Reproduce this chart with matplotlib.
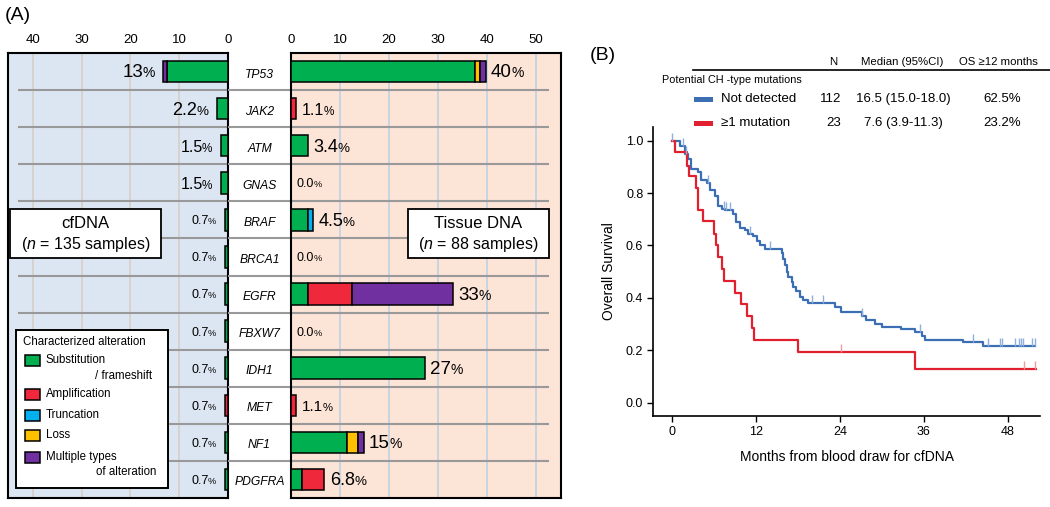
import numpy as np
import matplotlib.pyplot as plt
from matplotlib.patches import Rectangle
from matplotlib.path import Path
from matplotlib.offsetbox import TextArea, HPacker, AnnotationBbox

plt.rcParams['font.family'] = ['Liberation Sans', 'DejaVu Sans']
plt.rcParams['mathtext.fontset'] = 'custom'
plt.rcParams['mathtext.it'] = 'Liberation Sans:italic'
plt.rcParams['mathtext.rm'] = 'Liberation Sans'

# ---------- DATA (A): alteration frequency (%) per gene ----------
genes = ["TP53", "JAK2", "ATM", "GNAS", "BRAF", "BRCA1",
         "EGFR", "FBXW7", "IDH1", "MET", "NF1", "PDGFRA"]
alt_names = ["Substitution", "Amplification", "Truncation", "Loss", "Multiple types"]

cf_sub   = [12.6, 2.2, 1.5, 1.5, 0.7, 0.7, 0.7, 0.7, 0.7, 0.0, 0.7, 0.7]
cf_amp   = [0.0, 0.0, 0.0, 0.0, 0.0, 0.0, 0.0, 0.0, 0.0, 0.7, 0.0, 0.0]
cf_trunc = [0.0] * 12
cf_loss  = [0.0] * 12
cf_multi = [0.7, 0.0, 0.0, 0.0, 0.0, 0.0, 0.0, 0.0, 0.0, 0.0, 0.0, 0.0]
cf_labels = ["13", "2.2", "1.5", "1.5", "0.7", "0.7", "0.7", "0.7", "0.7", "0.7", "0.7", "0.7"]

ti_sub   = [37.5, 0.0, 3.4, 0.0, 3.4, 0.0, 3.4, 0.0, 27.3, 0.0, 11.4, 2.3]
ti_amp   = [0.0, 1.1, 0.0, 0.0, 0.0, 0.0, 9.1, 0.0, 0.0, 1.1, 0.0, 4.5]
ti_trunc = [0.0, 0.0, 0.0, 0.0, 1.1, 0.0, 0.0, 0.0, 0.0, 0.0, 0.0, 0.0]
ti_loss  = [1.1, 0.0, 0.0, 0.0, 0.0, 0.0, 0.0, 0.0, 0.0, 0.0, 2.3, 0.0]
ti_multi = [1.1, 0.0, 0.0, 0.0, 0.0, 0.0, 20.5, 0.0, 0.0, 0.0, 1.1, 0.0]
ti_labels = ["40", "1.1", "3.4", "0.0", "4.5", "0.0", "33", "0.0", "27", "1.1", "15", "6.8"]

# ---------- DATA (B): Kaplan-Meier steps ----------
blue_t = [0, 1.1, 1.9, 2.3, 2.8, 3.8, 4.2, 5.0, 5.4, 6.1, 6.6, 7.1, 7.6, 8.8, 9.2,
          9.7, 10.4, 10.9, 11.6, 12.1, 12.6, 13.3, 15.7, 15.9, 16.1, 16.4, 16.6,
          17.1, 17.3, 17.8, 18.3, 18.8, 19.5, 23.3, 24.2, 27.1, 27.8, 29.0, 30.0,
          32.8, 34.7, 35.7, 36.1, 41.6, 44.5, 51.9]
blue_s = [1.0, 0.98, 0.95, 0.93, 0.89, 0.88, 0.85, 0.84, 0.81, 0.79, 0.75, 0.74, 0.735,
          0.72, 0.69, 0.665, 0.66, 0.645, 0.635, 0.615, 0.60, 0.585, 0.57, 0.55, 0.525,
          0.50, 0.48, 0.46, 0.44, 0.425, 0.405, 0.39, 0.38, 0.365, 0.345, 0.33, 0.315,
          0.30, 0.29, 0.28, 0.27, 0.255, 0.24, 0.23, 0.215, 0.215]
blue_cens = [0.05, 1.6, 2.0, 5.1, 7.4, 7.8, 8.3, 11.1, 14.0, 20.0, 21.6, 27.1, 35.4,
             43.0, 45.1, 46.9, 47.2, 49.0, 49.6, 49.9, 50.1, 51.5, 51.9]

red_t = [0, 0.4, 2.2, 2.5, 3.4, 3.7, 4.4, 6.0, 6.3, 6.6, 7.1, 7.5, 9.0, 9.9, 10.7,
         11.5, 11.7, 18.0, 34.8, 52.0]
red_s = [1.0, 0.955, 0.905, 0.865, 0.82, 0.735, 0.695, 0.645, 0.60, 0.555, 0.51, 0.465,
         0.42, 0.375, 0.33, 0.285, 0.24, 0.195, 0.13, 0.13]
red_cens = [24.1, 50.3, 51.9]

table_rows = [("Not detected", "112", "16.5 (15.0-18.0)", "62.5%"),
              ("\u22651 mutation", "23", "7.6 (3.9-11.3)", "23.2%")]

# ---------- STYLE ----------
alt_colors = ["#00B050", "#F0283C", "#00B0F0", "#FFC000", "#7030A0"]
cf_sizes = [13.5, 13, 11.5, 11.5, 9, 9, 9, 9, 9, 9, 9, 9]
ti_sizes = [13.5, 11.5, 13, 9, 13, 9, 13.5, 9, 13.5, 11, 13.5, 13]
blue_c, red_c = "#3C6EB4", "#E0202F"

W, H = 1050, 507
fig = plt.figure(figsize=(W / 100, H / 100), dpi=100)


def px_axes(x0, y0, x1, y1, **kw):
    return fig.add_axes([x0 / W, 1 - y1 / H, (x1 - x0) / W, (y1 - y0) / H], **kw)


axL = px_axes(8, 53, 228, 498)
axM = px_axes(228, 53, 291, 498)
axR = px_axes(291, 53, 561, 498)
axB = px_axes(653, 127, 1040, 416)

y = np.arange(len(genes))


def pct_label(ax, x, yy, num, size, left):
    box = HPacker(children=[TextArea(num, textprops=dict(size=size)),
                            TextArea("%", textprops=dict(size=size * 0.74))],
                  align="baseline", pad=0, sep=-0.4)
    ab = AnnotationBbox(box, (x, yy), xybox=(-6 if left else 4, -1),
                        boxcoords="offset points",
                        box_alignment=(1, 0.5) if left else (0, 0.5),
                        frameon=False, pad=0)
    ax.add_artist(ab)


def draw_side(ax, series, labels, sizes, left):
    base = np.zeros(len(genes))
    for vals, col in zip(series, alt_colors):
        vals = np.array(vals)
        m = vals > 0
        ax.barh(y[m], vals[m], left=base[m], height=0.58, color=col,
                edgecolor="black", linewidth=1.1, zorder=3)
        base += vals
    for i in range(len(genes)):
        pct_label(ax, base[i], y[i], labels[i], sizes[i], left)


draw_side(axL, [cf_sub, cf_amp, cf_trunc, cf_loss, cf_multi], cf_labels, cf_sizes, True)
draw_side(axR, [ti_sub, ti_amp, ti_trunc, ti_loss, ti_multi], ti_labels, ti_sizes, False)

for ax, bg, gc, xl, ticks, sep in [
        (axL, "#DCE6F2", "#D8D2CE", (45.1, 0), [40, 30, 20, 10, 0], (43.1, 0)),
        (axR, "#FCE4D6", "#C8D4E2", (0, 55.1), [0, 10, 20, 30, 40, 50], (0, 52.7))]:
    ax.set_facecolor(bg)
    ax.set_xlim(*xl)
    ax.set_ylim(len(genes) - 0.5, -0.5)
    ax.set_yticks([])
    ax.set_xticks(ticks)
    ax.xaxis.tick_top()
    ax.tick_params(axis="x", length=0, pad=5, labelsize=9.5)
    for t in ticks:
        if t != 0:
            ax.axvline(t, color=gc, lw=1.4, zorder=1)
    ax.hlines(y[:-1] + 0.5, sep[0], sep[1], color="#999999", lw=1.5, zorder=2)
    for s in ax.spines.values():
        s.set_linewidth(1.5)

axM.set_xlim(0, 1)
axM.set_ylim(len(genes) - 0.5, -0.5)
axM.axis("off")
axM.hlines(y[:-1] + 0.5, 0, 1, color="#999999", lw=1.5)
for i, g in enumerate(genes):
    axM.text(0.5, y[i] + 0.08, g, ha="center", va="center", style="italic", fontsize=8.7)

# ---------- PANEL B ----------
axB.step(blue_t, blue_s, where="post", color=blue_c, lw=1.6, zorder=3)
axB.step(red_t, red_s, where="post", color=red_c, lw=1.6, zorder=3)
tick_mark = Path([(0, 0), (0, 1)], [Path.MOVETO, Path.LINETO])
for cens, tt, ss, col in [(blue_cens, blue_t, blue_s, "#8FB0DC"),
                          (red_cens, red_t, red_s, "#F29AA2")]:
    idx = np.searchsorted(tt, cens, side="right") - 1
    axB.plot(cens, np.array(ss)[idx], linestyle="none", marker=tick_mark,
             ms=11, mew=1.0, mec=col, zorder=4)

axB.set_xlim(-2.7, 52.6)
axB.set_ylim(-0.051, 1.052)
axB.set_xticks([0, 12, 24, 36, 48])
axB.set_yticks([0, 0.2, 0.4, 0.6, 0.8, 1.0])
axB.set_yticklabels([f"{v:.1f}" for v in [0, 0.2, 0.4, 0.6, 0.8, 1.0]])
axB.tick_params(direction="out", length=4, width=1, labelsize=9, pad=3)
axB.spines["top"].set_visible(False)
axB.spines["right"].set_visible(False)
axB.spines["left"].set_linewidth(1.2)
axB.spines["bottom"].set_linewidth(1.2)
axB.set_xlabel("Months from blood draw for cfDNA", fontsize=10, labelpad=9)
axB.set_ylabel("Overall Survival", fontsize=10, labelpad=7)

# ---------- OVERLAY: boxes, legend, table ----------
ov = fig.add_axes([0, 0, 1, 1], zorder=10)
ov.set_xlim(0, W)
ov.set_ylim(H, 0)
ov.axis("off")

ov.text(5, 15, "(A)", fontsize=14, va="center", ha="left")
ov.text(590, 55, "(B)", fontsize=14, va="center", ha="left")

for (x0, x1), line1, line2 in [((10, 161), "cfDNA", r"($n$ = 135 samples)"),
                               ((408, 549), "Tissue DNA", r"($n$ = 88 samples)")]:
    ov.add_patch(Rectangle((x0, 209), x1 - x0, 49, fc="white", ec="black", lw=1.3))
    ov.text((x0 + x1) / 2, 224, line1, ha="center", va="center", fontsize=12)
    ov.text((x0 + x1) / 2, 244, line2, ha="center", va="center", fontsize=11.5)

ov.add_patch(Rectangle((16, 330), 152, 158, fc="white", ec="black", lw=1.4))
ov.text(23, 342, "Characterized alteration", fontsize=8.3, va="center")
leg_y = [360, 394, 415, 435, 457]
for name, col, ly in zip(alt_names, alt_colors, leg_y):
    ov.add_patch(Rectangle((25, ly - 5.5), 15, 11, fc=col, ec="black", lw=1.1))
    ov.text(46, ly, name, fontsize=8.3, va="center")
ov.text(152, 376, "/ frameshift", fontsize=8.3, va="center", ha="right")
ov.text(156, 472, "of alteration", fontsize=8.3, va="center", ha="right")

# survival table
ov.text(833, 62, "N", fontsize=8.2, ha="center", va="center")
ov.text(902, 62, "Median (95%CI)", fontsize=8.2, ha="center", va="center")
ov.text(998, 62, "OS \u226512 months", fontsize=8.2, ha="center", va="center")
ov.plot([693, 1050], [70, 70], color="black", lw=1.2)
ov.text(662, 80, "Potential CH -type mutations", fontsize=7.8, va="center")
for (name, n, med, os12), col, ry in zip(table_rows, [blue_c, red_c], [99, 123]):
    ov.add_patch(Rectangle((694, ry - 2.5), 19, 5, fc=col, ec="none"))
    ov.text(721, ry, name, fontsize=9.5, va="center")
    ov.text(841, ry, n, fontsize=9.5, va="center", ha="right")
    ov.text(903, ry, med, fontsize=9.5, va="center", ha="center")
    ov.text(1002, ry, os12, fontsize=9.5, va="center", ha="center")

fig.savefig("out.png", dpi=100)
